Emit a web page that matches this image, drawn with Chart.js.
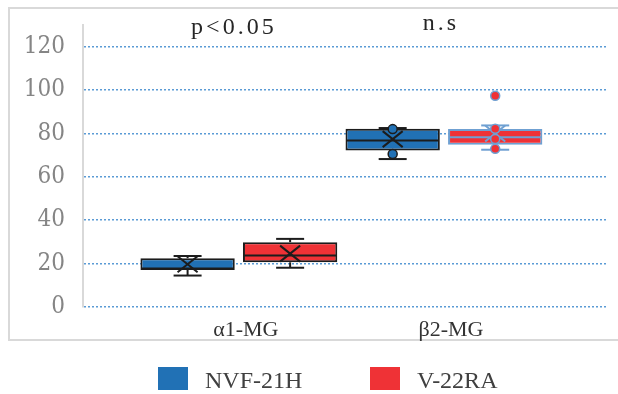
<!DOCTYPE html>
<html>
<head>
<meta charset="utf-8">
<script src="https://cdn.jsdelivr.net/npm/chart.js@4.4.1/dist/chart.umd.min.js"></script>
<style>
  html, body { margin: 0; padding: 0; background: #fff; }
  #wrap { position: relative; width: 618px; height: 394px; overflow: hidden; }
  #frame { position: absolute; left: 8px; top: 7px; width: 640px; height: 330px; border: 2px solid #d9d9d9; }
  #chart { position: absolute; left: 0; top: 0; }
  .swatch { position: absolute; width: 30px; height: 23px; }
  .label { position: absolute; font: 24px "Liberation Serif", serif; line-height: 24px; color: #404040; white-space: nowrap; }
</style>
</head>
<body>
<div id="wrap">
  <div id="frame"></div>
  <canvas id="chart" width="618" height="394"></canvas>
  <div id="legend"></div>
</div>
<script>
'use strict';

const categories = ['α1-MG', 'β2-MG'];
const seriesNames = ['NVF-21H', 'V-22RA'];
const yTicks = [0, 20, 40, 60, 80, 100, 120];
const notes = ['p<0.05', 'n.s'];

// NVF-21H
const nvfMin = [14.5, 68.2];
const nvfQ1 = [17.1, 72.2];
const nvfMedian = [17.7, 76.8];
const nvfQ3 = [22.5, 82.2];
const nvfMax = [23.5, 82.5];
const nvfMean = [19.7, 77.4];
const nvfPoints = [[], [82.0, 70.5]];

// V-22RA
const vraMin = [18.1, 72.5];
const vraQ1 = [20.6, 74.8];
const vraMedian = [23.7, 78.3];
const vraQ3 = [29.9, 82.0];
const vraMax = [31.4, 83.7];
const vraMean = [24.6, 80.0];
const vraPoints = [[], [97.4, 82.2, 77.4, 72.9]];

const fills = ['#2171b5', '#ef3236'];
const edges = [['#1c1c1c', '#1c1c1c'], ['#1c1c1c', '#6fa0d2']];
const pointEdges = [['#1c1c1c', '#1c1c1c'], ['#1c1c1c', '#6fa0d2']];

const stats = [
  { min: nvfMin, q1: nvfQ1, med: nvfMedian, q3: nvfQ3, max: nvfMax, mean: nvfMean, pts: nvfPoints },
  { min: vraMin, q1: vraQ1, med: vraMedian, q3: vraQ3, max: vraMax, mean: vraMean, pts: vraPoints }
];

function line(ctx, x1, y1, x2, y2) {
  ctx.beginPath();
  ctx.moveTo(x1, y1);
  ctx.lineTo(x2, y2);
  ctx.stroke();
}

// whiskers, medians, means and points on top of the floating bars
const boxExtras = {
  id: 'boxExtras',
  beforeDatasetsDraw(chart) {
    const ctx = chart.ctx, y = chart.scales.y;
    stats.forEach((st, s) => {
      chart.getDatasetMeta(s).data.forEach((bar, i) => {
        ctx.save();
        ctx.strokeStyle = edges[s][i];
        ctx.lineWidth = 2;
        const top = y.getPixelForValue(st.max[i]);
        const bot = y.getPixelForValue(st.min[i]);
        line(ctx, bar.x, top, bar.x, y.getPixelForValue(st.q3[i]));
        line(ctx, bar.x, bot, bar.x, y.getPixelForValue(st.q1[i]));
        line(ctx, bar.x - 14, top, bar.x + 14, top);
        line(ctx, bar.x - 14, bot, bar.x + 14, bot);
        ctx.restore();
      });
    });
  },
  afterDatasetsDraw(chart) {
    const ctx = chart.ctx, y = chart.scales.y;
    stats.forEach((st, s) => {
      chart.getDatasetMeta(s).data.forEach((bar, i) => {
        const half = bar.width / 2 - 1;
        ctx.save();
        ctx.strokeStyle = edges[s][i];
        ctx.lineWidth = 2;
        const my = y.getPixelForValue(st.med[i]);
        line(ctx, bar.x - half, my, bar.x + half, my);
        const ay = y.getPixelForValue(st.mean[i]);
        line(ctx, bar.x - 10, ay - 8, bar.x + 10, ay + 8);
        line(ctx, bar.x - 10, ay + 8, bar.x + 10, ay - 8);
        st.pts[i].forEach(v => {
          ctx.beginPath();
          ctx.arc(bar.x, y.getPixelForValue(v), 4.5, 0, Math.PI * 2);
          ctx.fillStyle = fills[s];
          ctx.fill();
          ctx.lineWidth = 1.5;
          ctx.strokeStyle = pointEdges[s][i];
          ctx.stroke();
        });
        ctx.restore();
      });
    });
  },
  afterDraw(chart) {
    const ctx = chart.ctx, x = chart.scales.x;
    ctx.save();
    ctx.font = '24px "Liberation Serif", serif';
    ctx.fillStyle = '#262626';
    ctx.textAlign = 'center';
    ctx.letterSpacing = '3px';
    ctx.fillText(notes[0], x.getPixelForValue(1) - 5, 34);
    ctx.fillText(notes[1], x.getPixelForValue(2) - 3, 30);
    ctx.restore();
  }
};

new Chart(document.getElementById('chart'), {
  type: 'bar',
  data: {
    datasets: seriesNames.map((name, s) => ({
      label: name,
      data: categories.map((c, i) => ({ x: i + 1, y: [stats[s].q1[i], stats[s].q3[i]] })),
      backgroundColor: fills[s],
      borderColor: edges[s],
      borderWidth: 2,
      borderSkipped: false,
      categoryPercentage: 1.0,
      barPercentage: 0.92
    }))
  },
  options: {
    responsive: false,
    animation: false,
    layout: { padding: { top: 25, right: 10, left: 0, bottom: 0 } },
    plugins: { legend: { display: false }, tooltip: { enabled: false } },
    scales: {
      x: {
        type: 'linear',
        min: 0.24,
        max: 2.8,
        offset: false,
        bounds: 'data',
        grid: { display: false },
        border: { display: false },
        afterBuildTicks: s => { s.ticks = categories.map((c, i) => ({ value: i + 1 })); },
        afterFit: s => { s.height = 87; },
        ticks: {
          callback: v => categories[v - 1] || '',
          font: { family: 'Liberation Serif', size: 22 },
          color: '#333333',
          padding: 2,
          labelOffset: 7,
          maxRotation: 0,
          autoSkip: false
        }
      },
      y: {
        min: 0,
        max: 130,
        afterBuildTicks: s => { s.ticks = yTicks.map(v => ({ value: v })); },
        afterFit: s => { s.width = 83; s.paddingTop = 0; s.paddingBottom = 0; },
        grid: { color: '#5b9bd5', lineWidth: 1.5, drawTicks: false },
        border: { display: true, color: '#d9d9d9', width: 2, dash: [2, 2] },
        ticks: {
          font: { family: 'DejaVu Serif Condensed', size: 24 },
          color: '#858585',
          padding: 18
        }
      }
    }
  },
  plugins: [boxExtras]
});

// legend below the frame
const legend = document.getElementById('legend');
const legendX = [158, 370];
seriesNames.forEach((name, s) => {
  const sw = document.createElement('div');
  sw.className = 'swatch';
  sw.style.left = legendX[s] + 'px';
  sw.style.top = '367px';
  sw.style.background = fills[s];
  legend.appendChild(sw);
  const lb = document.createElement('div');
  lb.className = 'label';
  lb.style.left = (legendX[s] + 47) + 'px';
  lb.style.top = '368px';
  lb.textContent = name;
  legend.appendChild(lb);
});
</script>
</body>
</html>
